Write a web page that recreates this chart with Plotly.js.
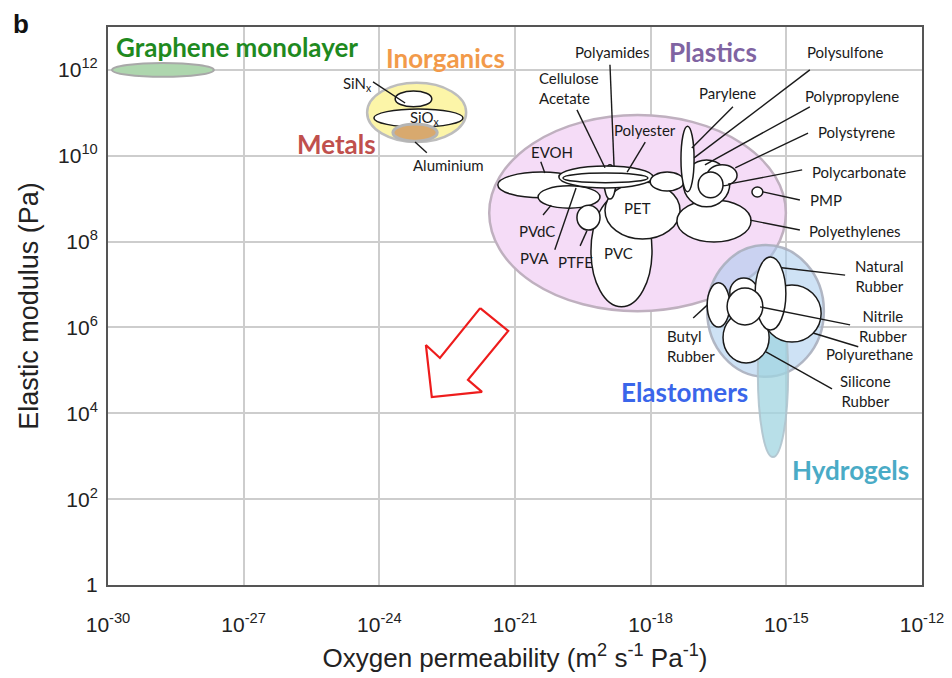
<!DOCTYPE html>
<html>
<head>
<meta charset="utf-8">
<script src="https://cdn.plot.ly/plotly-3.0.1.min.js"></script>
<style>html,body{margin:0;padding:0;background:#fff;}#chart{width:952px;height:678px;}</style>
</head>
<body>
<div id="chart"></div>
<script>
// ---------- DATA (all values are log10 exponents) ----------
// x: oxygen permeability (m2 s-1 Pa-1), y: elastic modulus (Pa)
const xTickExps = [-30, -27, -24, -21, -18, -15, -12];
const yTickExps = [0, 2, 4, 6, 8, 10, 12];

// material property regions (ellipse bounds), in draw order
const ellipseNames = ["Graphene monolayer", "Inorganics", "SiNx", "SiOx", "Metals",
  "Plastics", "EVOH", "PVdC", "PVC", "PET", "PTFE", "Polyamides", "Cellulose Acetate", "Polyester",
  "Polysulfone", "Polyethylenes", "Polypropylene", "Polystyrene", "Polycarbonate", "Parylene", "PMP",
  "Elastomers", "Hydrogels", "Rubber (other)", "Silicone Rubber", "Polyurethane", "Natural Rubber", "Butyl Rubber", "Nitrile Rubber"];
const ellipseXLo = [-29.91, -24.27, -23.65, -24.12, -23.70,
  -21.57, -21.38, -20.49, -19.32, -19.01, -19.63, -19.03, -20.03, -19.94,
  -18.01, -17.42, -17.28, -16.75, -16.95, -17.33, -15.76,
  -16.75, -15.63, -16.25, -16.40, -15.52, -15.69, -16.75, -16.31];
const ellipseXHi = [-27.66, -22.08, -22.84, -22.15, -22.72,
  -15.01, -19.45, -19.12, -17.97, -17.35, -19.12, -18.77, -17.95, -18.06,
  -17.26, -15.78, -16.25, -16.09, -16.40, -17.04, -15.52,
  -14.17, -14.96, -15.63, -15.38, -14.23, -15.01, -16.25, -15.52];
const ellipseYLo = [11.84, 10.32, 11.14, 10.67, 10.34,
  6.38, 9.02, 8.78, 6.48, 8.06, 8.27, 8.99, 9.25, 9.37,
  9.18, 7.99, 8.81, 9.30, 9.02, 9.16, 9.04,
  4.85, 2.98, 6.48, 5.17, 5.66, 5.94, 6.01, 6.06];
const ellipseYHi = [12.16, 11.70, 11.51, 11.09, 10.74,
  10.95, 9.62, 9.30, 9.09, 9.39, 8.85, 9.79, 9.76, 9.60,
  9.62, 8.97, 9.90, 9.79, 9.62, 10.69, 9.27,
  7.92, 6.87, 7.15, 6.36, 6.99, 7.64, 7.04, 6.92];

// class labels
const classTexts = ["Graphene monolayer", "Inorganics", "Metals", "Plastics", "Elastomers", "Hydrogels"];
const classX = [-27.15, -22.53, -24.94, -16.62, -17.26, -13.59];
const classY = [12.53, 12.28, 10.27, 12.42, 4.50, 2.68];

// material labels
const matTexts = ["SiN<sub>x</sub>", "SiO<sub>x</sub>", "Aluminium", "Polyamides", "Cellulose<br>Acetate", "Polyester",
  "Parylene", "Polysulfone", "Polypropylene", "Polystyrene", "Polycarbonate", "PMP", "Polyethylenes",
  "EVOH", "PVdC", "PVA", "PTFE", "PET", "PVC",
  "Natural<br>Rubber", "Nitrile<br>Rubber", "Polyurethane", "Silicone<br>Rubber", "Butyl<br>Rubber"];
const matX = [-24.49, -22.99, -22.48, -18.85, -20.51, -18.12,
  -16.31, -13.70, -13.55, -13.44, -13.39, -14.12, -13.48,
  -20.18, -20.51, -20.56, -19.67, -18.30, -18.72,
  -12.93, -12.86, -13.15, -13.26, -17.68];
const matY = [11.67, 10.88, 9.79, 12.42, 11.59, 10.60,
  11.46, 12.42, 11.39, 10.55, 9.62, 8.97, 8.25,
  10.09, 8.25, 7.62, 7.53, 8.78, 7.74,
  7.20, 6.03, 5.38, 4.52, 5.57];

// leader lines from labels to regions
const leaderX0 = [-24.14, -23.21, -18.90, -19.63, -18.12, -20.43, -20.38, -20.12, -19.56,
  -16.18, -14.48, -14.48, -14.52, -14.65, -14.70, -14.70, -13.70, -13.59, -13.41, -13.99, -17.06];
const leaderY0 = [11.72, 10.32, 12.12, 11.07, 10.32, 9.86, 8.62, 7.81, 7.90,
  11.14, 12.00, 11.14, 10.53, 9.67, 8.97, 8.27, 7.22, 6.06, 5.55, 4.57, 6.22];
const leaderX1 = [-23.43, -22.95, -18.81, -19.01, -18.52, -20.34, -20.20, -19.65, -19.41,
  -17.09, -17.04, -16.80, -16.13, -16.29, -15.52, -15.80, -15.10, -15.58, -14.41, -15.45, -16.75];
const leaderY1 = [11.23, 10.07, 9.76, 9.72, 9.62, 9.60, 8.85, 9.25, 8.25,
  10.18, 9.95, 9.79, 9.72, 9.34, 9.16, 8.50, 7.39, 6.48, 5.87, 5.43, 6.52];

// red "better barrier" arrow outline
const arrowX = [-21.77, -21.15, -22.04, -21.73, -22.84, -22.97, -22.66, -21.77];
const arrowY = [6.45, 5.92, 4.78, 4.50, 4.38, 5.59, 5.29, 6.45];

// ---------- STYLES ----------
const envelopeStyle = {
  "Graphene monolayer": {fill: "#aed6ae", line: "#a8a8a8", w: 2},
  "Inorganics": {fill: "#fcf5a8", line: "#bdbdbd", w: 2.5},
  "Metals": {fill: "#d8a96e", line: "#b5b5b5", w: 3},
  "Plastics": {fill: "#f5dcf7", line: "#bfb0bf", w: 2.5},
  "Elastomers": {fill: "rgba(165,203,236,0.55)", line: "rgba(170,175,190,0.9)", w: 2.5},
  "Hydrogels": {fill: "rgba(160,212,224,0.75)", line: "rgba(175,195,205,0.9)", w: 2}
};
const classColor = {
  "Graphene monolayer": "#1f8a1f", "Inorganics": "#f29a4a", "Metals": "#c0504d",
  "Plastics": "#8064a2", "Elastomers": "#3a66ea", "Hydrogels": "#4aabc6"
};
const p10 = v => Math.pow(10, v);

const shapes = [];
ellipseNames.forEach((n, i) => {
  const st = envelopeStyle[n] || {fill: "#ffffff", line: "#1a1a1a", w: 1.5};
  shapes.push({type: "circle", xref: "x", yref: "y",
    x0: p10(ellipseXLo[i]), x1: p10(ellipseXHi[i]), y0: p10(ellipseYLo[i]), y1: p10(ellipseYHi[i]),
    fillcolor: st.fill, line: {color: st.line, width: st.w}, layer: "above"});
});
leaderX0.forEach((v, i) => {
  shapes.push({type: "line", xref: "x", yref: "y",
    x0: p10(leaderX0[i]), y0: p10(leaderY0[i]), x1: p10(leaderX1[i]), y1: p10(leaderY1[i]),
    line: {color: "#1a1a1a", width: 1.4}, layer: "above"});
});

const labelFont = "Lato, Carlito, 'Open Sans', sans-serif";
const annotations = [];
classTexts.forEach((t, i) => {
  annotations.push({x: classX[i], y: classY[i], xref: "x", yref: "y", text: "<b>" + t + "</b>",
    showarrow: false, font: {family: labelFont, size: 26, color: classColor[t]}});
});
const leftAligned = {"Cellulose<br>Acetate": true, "Butyl<br>Rubber": true};
matTexts.forEach((t, i) => {
  const left = !!leftAligned[t];
  annotations.push({x: matX[i], y: matY[i], xref: "x", yref: "y", text: t,
    showarrow: false, xanchor: left ? "left" : "center", align: left ? "left" : "center",
    font: {family: labelFont, size: 15, color: "#1a1a1a"}});
});
annotations.push({x: 0, y: 1, xref: "paper", yref: "paper", text: "<b>b</b>", showarrow: false,
  xanchor: "center", yanchor: "middle", xshift: -87, yshift: 3,
  font: {family: "Liberation Sans, Arial, sans-serif", size: 26, color: "#111"}});

const traces = [{
  x: arrowX.map(p10), y: arrowY.map(p10), type: "scatter", mode: "lines",
  line: {color: "#ee1c1c", width: 2.2}, hoverinfo: "skip", showlegend: false
}];

const tickFont = {family: "Liberation Sans, Arial, sans-serif", size: 21, color: "#222"};
const layout = {
  width: 952, height: 678,
  margin: {l: 108, r: 30, t: 27, b: 93},
  paper_bgcolor: "#fff", plot_bgcolor: "#fff",
  showlegend: false,
  xaxis: {
    type: "log", range: [-30, -12], autorange: false,
    tickvals: xTickExps.map(p10), ticktext: xTickExps.map(e => "10<sup>" + e + "</sup>"),
    tickfont: tickFont, ticks: "", ticklabelstandoff: 20,
    showgrid: true, gridcolor: "#cdcdcd", gridwidth: 2,
    showline: true, mirror: true, linecolor: "#555", linewidth: 2, zeroline: false,
    title: {text: "Oxygen permeability (m<sup>2</sup> s<sup>-1</sup> Pa<sup>-1</sup>)",
      font: {family: "Liberation Sans, Arial, sans-serif", size: 26, color: "#222"}, standoff: 14}
  },
  yaxis: {
    type: "log", range: [0, 13], autorange: false,
    tickvals: yTickExps.map(p10), ticktext: yTickExps.map(e => e === 0 ? "1" : "10<sup>" + e + "</sup>"),
    tickfont: tickFont, ticks: "", ticklabelstandoff: 4,
    showgrid: true, gridcolor: "#cdcdcd", gridwidth: 2,
    showline: true, mirror: true, linecolor: "#555", linewidth: 2, zeroline: false,
    title: {text: "Elastic modulus (Pa)",
      font: {family: "Liberation Sans, Arial, sans-serif", size: 27, color: "#222"}, standoff: 12}
  },
  shapes: shapes,
  annotations: annotations
};
Plotly.newPlot("chart", traces, layout, {displayModeBar: false, staticPlot: true});
</script>
</body>
</html>
